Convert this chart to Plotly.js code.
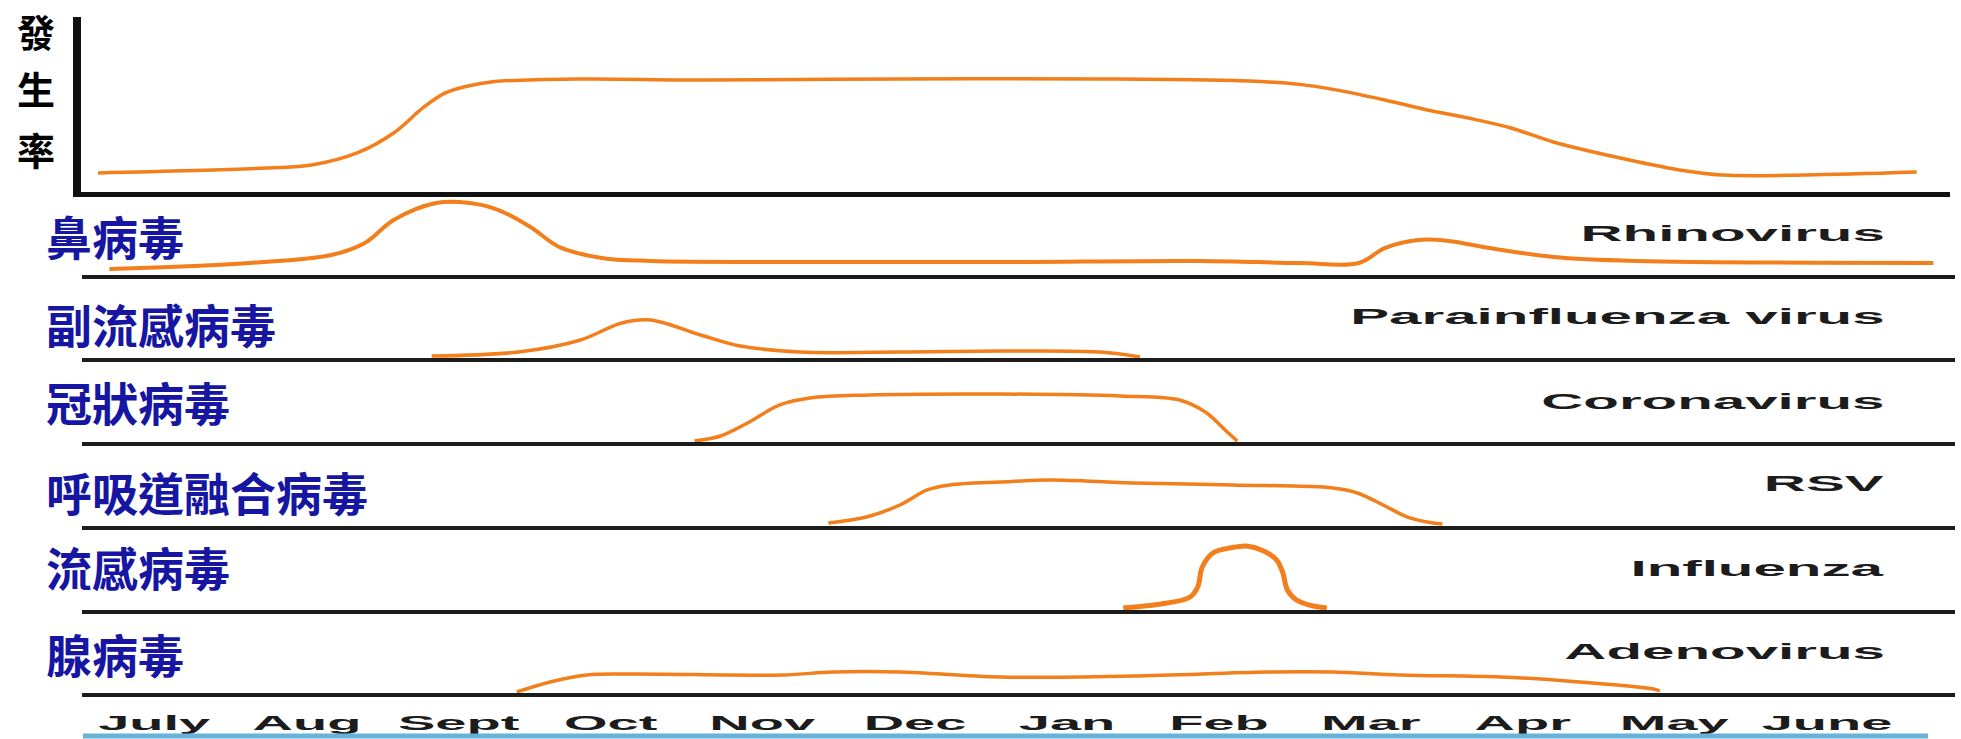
<!DOCTYPE html>
<html><head><meta charset="utf-8">
<script src="https://cdn.plot.ly/plotly-3.0.1.min.js"></script>
<style>html,body{margin:0;padding:0;background:#fff}#chart{width:1961px;height:739px}</style>
</head><body><div id="chart"></div>
<script>
// ---------- data ----------
const months = ['July','Aug','Sept','Oct','Nov','Dec','Jan','Feb','Mar','Apr','May','June'];
const panelNamesZh = ['鼻病毒','副流感病毒','冠狀病毒','呼吸道融合病毒','流感病毒','腺病毒'];
const panelNamesEn = ['Rhinovirus','Parainfluenza virus','Coronavirus','RSV','Influenza','Adenovirus'];
const yTitle = '發生率';

// x: position in months (0 = July ... 11 = June); y: relative incidence (0-100 of panel height)
const overallX = [-0.375,0.74,1.03,1.33,1.57,1.77,1.91,2.03,2.21,2.80,3.59,4.90,6.22,7.20,7.53,7.76,8.09,8.37,8.64,8.92,9.20,9.61,10.03,10.31,10.86,11.59];
const overallY = [10.9,13.7,15.4,22.3,33.7,48.6,56.6,60.0,62.9,64.6,64.0,64.6,64.6,63.4,61.5,58.5,52.6,46.9,42.3,36.6,28.6,20.0,12.6,9.7,9.7,11.4];

const rhinoX = [-0.30,0.62,1.16,1.38,1.57,1.85,2.07,2.26,2.47,2.66,2.94,3.26,4.24,5.56,6.88,7.53,7.92,8.09,8.31,8.51,8.78,9.20,9.75,11.70];
const rhinoY = [7.2,14.5,24.1,38.6,66.3,86.7,86.7,78.3,57.8,33.7,20.5,16.9,15.7,15.7,16.9,14.5,14.5,32.5,42.2,41.0,32.5,21.7,16.9,14.5];

const paraX = [1.82,2.39,2.80,3.07,3.26,3.59,3.85,4.24,4.90,5.56,6.22,6.48];
const paraY = [2.4,7.2,21.7,42.2,45.8,27.7,14.5,7.2,7.2,8.4,7.2,1.2];

const coronaX = [3.55,3.72,3.91,4.11,4.31,4.70,5.56,6.35,6.74,6.91,7.04,7.12];
const coronaY = [1.2,7.2,24.1,44.6,53.0,56.6,57.8,55.4,50.6,36.1,14.5,1.2];

const rsvX = [4.43,4.68,4.90,5.08,5.23,5.56,5.89,6.43,7.09,7.75,7.91,8.08,8.24,8.41,8.47];
const rsvY = [3.6,10.8,25.3,43.4,49.4,53.0,55.4,51.8,49.4,45.8,39.8,25.3,10.8,3.6,2.4];

const fluX = [6.37,6.66,6.81,6.86,6.89,6.96,7.08,7.18,7.29,7.38,7.42,7.45,7.51,7.62,7.71];
const fluY = [2.4,8.4,15.7,27.7,51.8,68.7,75.0,77.1,71.5,60.2,44.6,24.1,12.0,4.8,2.4];

const adenoX = [2.38,2.60,2.84,3.14,4.13,4.46,4.90,5.56,6.43,7.32,7.75,8.19,8.85,9.29,9.86,9.90];
const adenoY = [1.2,13.3,21.7,22.9,21.7,25.3,25.3,19.3,20.5,25.3,25.3,21.7,19.3,14.5,4.8,2.4];

const virusX = [rhinoX, paraX, coronaX, rsvX, fluX, adenoX];
const virusY = [rhinoY, paraY, coronaY, rsvY, fluY, adenoY];

// ---------- layout geometry / styles ----------
const W = 1961, H = 739;
const M0 = 155, MSTEP = 152;            // pixel of July centre, pixels per month
const fx = p => p / W, fy = p => 1 - p / H;
const xr = (a, b) => [(a - M0) / MSTEP, (b - M0) / MSTEP];
const ORANGE = '#F27F1B';
const BLUE = '#1616a3';
const INK = '#1c1c1c';
const CJK = "'Noto Sans CJK TC','Noto Sans CJK SC',sans-serif";
const LAT = "'Liberation Sans',Arial,sans-serif";

const baselines = [275, 358, 442, 526, 610, 693];
const panelH = 83;
const zhY = [235, 323, 401, 491, 566, 653];
const enY = [234, 316, 401, 484, 568, 651];
const titleY = [30, 87, 148];
const lineW = [4, 3.5, 3.5, 3.5, 5, 3.5];

const traces = [];
traces.push({x: overallX, y: overallY, xaxis: 'x', yaxis: 'y', mode: 'lines',
  line: {color: ORANGE, width: 3.5, shape: 'spline', smoothing: 1}, hoverinfo: 'skip', showlegend: false});
virusX.forEach((xs, k) => {
  traces.push({x: xs, y: virusY[k], xaxis: 'x' + (k + 2), yaxis: 'y' + (k + 2), mode: 'lines',
    line: {color: ORANGE, width: lineW[k], shape: 'spline', smoothing: 1}, hoverinfo: 'skip', showlegend: false});
});

const layout = {
  width: W, height: H, margin: {l: 0, r: 0, t: 0, b: 0},
  paper_bgcolor: '#fff', plot_bgcolor: 'rgba(0,0,0,0)', showlegend: false,
  xaxis: {domain: [fx(81), fx(1950)], range: xr(81, 1950), anchor: 'y', showline: true, linewidth: 5, linecolor: '#111',
    showgrid: false, zeroline: false, ticks: '', showticklabels: false, fixedrange: true},
  yaxis: {domain: [fy(192), fy(17)], range: [0, 100], anchor: 'x', showline: true, linewidth: 8, linecolor: '#111',
    showgrid: false, zeroline: false, ticks: '', showticklabels: false, fixedrange: true},
  annotations: [], shapes: []
};
baselines.forEach((b, k) => {
  const n = k + 2, last = k === baselines.length - 1;
  layout['xaxis' + n] = {domain: [fx(82), fx(1955)], range: xr(82, 1955), anchor: 'y' + n,
    showline: true, linewidth: 4, linecolor: INK, showgrid: false, zeroline: false, ticks: '',
    showticklabels: last, fixedrange: true,
    tickmode: 'array', tickvals: months.map((m, i) => i), ticktext: months,
    tickfont: {family: LAT, size: 20, color: INK, weight: 'bold'}, ticklabelstandoff: 9};
  layout['yaxis' + n] = {domain: [fy(b), fy(b - panelH)], range: [0, 100], anchor: 'x' + n,
    visible: false, fixedrange: true};
});

const stretch = [];
yTitle.split('').forEach((ch, k) => {
  layout.annotations.push({xref: 'paper', yref: 'paper', x: fx(36), y: fy(titleY[k]), xanchor: 'center', yanchor: 'middle',
    text: ch, showarrow: false, borderpad: 0, font: {family: CJK, size: 38, color: '#000', weight: 'bold'}});
  stretch.push(null);
});
panelNamesZh.forEach((t, k) => {
  layout.annotations.push({xref: 'paper', yref: 'paper', x: fx(44), y: fy(zhY[k]), xanchor: 'left', yanchor: 'middle',
    text: t, showarrow: false, font: {family: CJK, size: 46, color: BLUE, weight: 'bold'}});
  stretch.push(null);
});
panelNamesEn.forEach((t, k) => {
  layout.annotations.push({xref: 'paper', yref: 'paper', x: fx(1887), y: fy(enY[k]), xanchor: 'right', yanchor: 'middle',
    text: t, showarrow: false, font: {family: LAT, size: 22, color: INK, weight: 'bold'}});
  stretch.push([2.65, 'right']);
});
layout.shapes.push({type: 'line', xref: 'paper', yref: 'paper', x0: fx(83), x1: fx(1928), y0: fy(736), y1: fy(736),
  line: {color: '#66b2d8', width: 5}});

function stretchText(el, s, side) {
  const bb = el.getBBox();
  const cx = side === 'right' ? bb.x + bb.width : side === 'left' ? bb.x : bb.x + bb.width / 2;
  const prev = el.getAttribute('transform') || '';
  el.setAttribute('transform', prev + ' translate(' + cx + ',0) scale(' + s + ',1) translate(' + (-cx) + ',0)');
}

Plotly.newPlot('chart', traces, layout, {staticPlot: true, displayModeBar: false}).then(gd => {
  try {
    gd.querySelectorAll('g.annotation').forEach(g => {
      const st = stretch[+g.getAttribute('data-index')];
      if (!st) return;
      const t = g.querySelector('text.annotation-text');
      if (t) stretchText(t, st[0], st[1]);
    });
    gd.querySelectorAll('g.x7tick text').forEach(t => stretchText(t, 2.8, 'center'));
  } catch (e) { console.log(e); }
});
</script></body></html>
